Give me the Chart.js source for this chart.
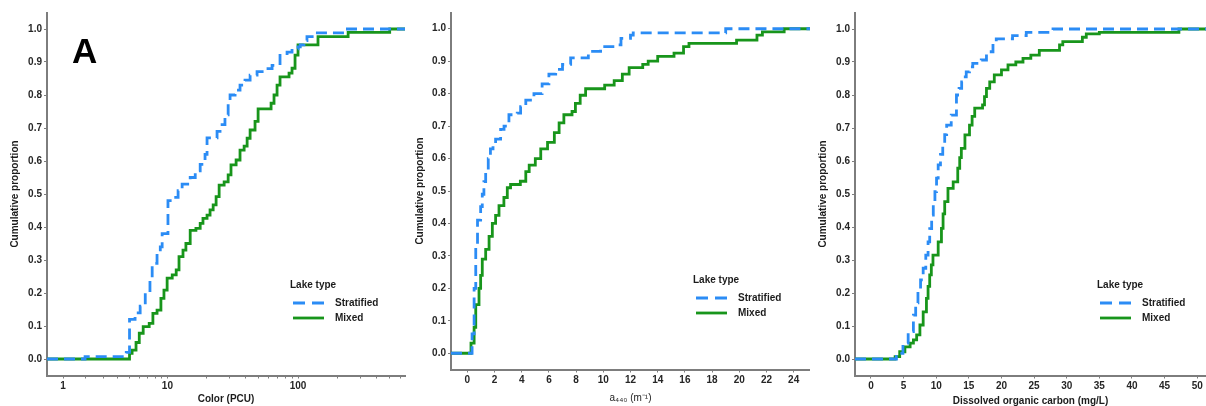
<!DOCTYPE html>
<html>
<head>
<meta charset="utf-8">
<title>Cumulative proportion by lake type</title>
<script src="https://cdn.jsdelivr.net/npm/chart.js@4.4.1/dist/chart.umd.min.js"></script>
<style>
  html, body { margin: 0; padding: 0; background: #fff; }
  #wrap { position: relative; width: 1206px; height: 406px; overflow: hidden; background: #fff; }
  #wrap canvas { position: absolute; top: 0; }
</style>
</head>
<body>
<div id="wrap">
  <canvas id="colorChart" width="406" height="406" style="left:0px"></canvas>
  <canvas id="a440Chart" width="404" height="406" style="left:406px"></canvas>
  <canvas id="docChart" width="396" height="406" style="left:810px"></canvas>
</div>
<script>
// ---- data -----------------------------------------------------------------
const lakeTypes = ['Stratified', 'Mixed'];
const legendTitle = 'Lake type';

const proportionTicks = [0, 0.1, 0.2, 0.3, 0.4, 0.5, 0.6, 0.7, 0.8, 0.9, 1.0];

// Color (PCU), pseudo-log axis
const colorTicks = [1, 2, 3, 4, 5, 6, 7, 8, 9, 10, 20, 30, 40, 50, 60, 70, 80, 90, 100, 200, 300, 400, 500, 600];
const colorTickLabels = [1, 10, 100];
const colorStratifiedX = [1.96, 4.7, 5.0, 5.55, 6.1, 6.7, 7.3, 7.6, 8.3, 8.8, 9.1, 10.1, 10.9, 12.1, 13.0, 15.0, 16.4, 17.9, 19.5, 20.2, 24.1, 25.4, 27.7, 29.3, 30.3, 33.1, 36.1, 39.4, 43.1, 48.7, 56.0, 63.4, 72.9, 82.5, 90.0, 100, 104, 111, 117, 137, 228];
const colorStratifiedY = [0.007, 0.02, 0.12, 0.14, 0.16, 0.20, 0.24, 0.29, 0.32, 0.34, 0.38, 0.48, 0.49, 0.51, 0.53, 0.55, 0.57, 0.59, 0.62, 0.67, 0.69, 0.71, 0.74, 0.78, 0.80, 0.815, 0.83, 0.845, 0.86, 0.871, 0.88, 0.89, 0.92, 0.93, 0.94, 0.946, 0.952, 0.965, 0.977, 0.988, 1.0];
const colorMixedX = [5.0, 5.25, 5.65, 6.0, 6.45, 7.2, 7.7, 8.3, 8.9, 9.4, 9.95, 10.9, 11.7, 12.3, 13.2, 13.9, 15.0, 16.6, 17.9, 18.8, 20.2, 21.3, 22.5, 23.7, 25.0, 27.3, 29.3, 30.8, 33.7, 36.1, 38.8, 40.9, 43.1, 47.0, 49.6, 62.3, 65.6, 69.2, 72.9, 85.4, 90.0, 94.9, 100, 142, 241, 500];
const colorMixedY = [0.017, 0.027, 0.05, 0.078, 0.098, 0.108, 0.138, 0.148, 0.184, 0.209, 0.245, 0.255, 0.27, 0.31, 0.33, 0.35, 0.39, 0.396, 0.411, 0.426, 0.436, 0.452, 0.467, 0.492, 0.527, 0.537, 0.558, 0.588, 0.603, 0.633, 0.645, 0.669, 0.694, 0.72, 0.758, 0.775, 0.80, 0.83, 0.855, 0.866, 0.881, 0.921, 0.952, 0.977, 0.99, 1.0];

// a440 (m^-1)
const a440Ticks = [0, 2, 4, 6, 8, 10, 12, 14, 16, 18, 20, 22, 24];
const a440StratifiedX = [0.35, 0.5, 0.62, 0.75, 0.98, 1.1, 1.22, 1.35, 1.54, 1.7, 1.89, 2.08, 2.45, 2.7, 3.06, 3.67, 3.92, 4.3, 4.9, 5.5, 6.0, 6.5, 7.0, 7.6, 8.9, 9.8, 10.9, 11.3, 12.0, 12.2, 19.0];
const a440StratifiedY = [0.06, 0.2, 0.32, 0.41, 0.452, 0.49, 0.529, 0.56, 0.6, 0.63, 0.647, 0.66, 0.69, 0.70, 0.735, 0.74, 0.76, 0.78, 0.80, 0.83, 0.86, 0.875, 0.89, 0.91, 0.93, 0.945, 0.95, 0.97, 0.98, 0.987, 1.0];
const a440MixedX = [0.27, 0.5, 0.62, 0.86, 0.98, 1.1, 1.35, 1.6, 1.84, 2.08, 2.33, 2.69, 2.94, 3.18, 3.9, 4.3, 4.55, 5.0, 5.4, 5.9, 6.4, 6.75, 7.1, 7.7, 7.95, 8.3, 8.7, 10.1, 10.8, 11.4, 11.9, 12.9, 13.3, 14.0, 15.2, 15.9, 16.3, 19.8, 21.3, 21.7, 23.3];
const a440MixedY = [0.031, 0.08, 0.15, 0.2, 0.24, 0.29, 0.32, 0.36, 0.4, 0.425, 0.455, 0.48, 0.51, 0.52, 0.53, 0.56, 0.58, 0.6, 0.63, 0.65, 0.68, 0.71, 0.735, 0.745, 0.77, 0.795, 0.815, 0.826, 0.84, 0.86, 0.88, 0.89, 0.90, 0.915, 0.925, 0.945, 0.955, 0.965, 0.98, 0.99, 1.0];

// Dissolved organic carbon (mg/L)
const docTicks = [0, 5, 10, 15, 20, 25, 30, 35, 40, 45, 50];
const docStratifiedX = [3.9, 4.2, 4.9, 5.7, 6.5, 6.85, 7.2, 7.6, 8.0, 8.4, 8.75, 9.0, 9.3, 9.55, 9.8, 10.05, 10.3, 10.65, 11.0, 11.3, 11.6, 12.3, 13.1, 13.5, 13.9, 14.2, 14.6, 15.1, 15.6, 16.9, 17.7, 18.7, 19.2, 21.7, 23.8, 27.9];
const docStratifiedY = [0.008, 0.017, 0.048, 0.083, 0.133, 0.17, 0.204, 0.24, 0.275, 0.315, 0.355, 0.395, 0.436, 0.47, 0.507, 0.548, 0.588, 0.62, 0.648, 0.68, 0.709, 0.739, 0.80, 0.82, 0.84, 0.855, 0.87, 0.885, 0.896, 0.906, 0.931, 0.957, 0.97, 0.98, 0.99, 1.0];
const docMixedX = [3.7, 4.4, 5.2, 6.0, 6.5, 7.0, 7.5, 8.0, 8.5, 8.75, 9.0, 9.25, 9.5, 10.3, 10.8, 11.05, 11.3, 11.8, 12.6, 13.3, 13.6, 13.85, 14.4, 15.1, 15.5, 15.9, 17.1, 17.4, 17.7, 18.2, 18.9, 20.0, 21.0, 22.2, 23.3, 24.5, 25.8, 28.9, 29.4, 32.4, 33.0, 35.0, 47.2];
const docMixedY = [0.007, 0.022, 0.037, 0.048, 0.058, 0.073, 0.103, 0.143, 0.184, 0.22, 0.255, 0.285, 0.315, 0.355, 0.396, 0.44, 0.477, 0.517, 0.537, 0.578, 0.61, 0.638, 0.679, 0.709, 0.735, 0.76, 0.77, 0.795, 0.82, 0.84, 0.861, 0.876, 0.891, 0.90, 0.911, 0.921, 0.935, 0.952, 0.962, 0.975, 0.985, 0.99, 1.0];

// ---- styling --------------------------------------------------------------
const FONT = '"Liberation Sans", Arial, Helvetica, sans-serif';
const BLUE = '#2b8cf5';
const GREEN = '#18951b';
const AXIS = '#7d7d7d';
const TICK_TEXT = '#262626';
const TITLE_TEXT = '#1c1c1c';
const LINE_W = 2.8;

// ---- pseudo-log scale (asinh(x/2)), like a log axis that stays defined near 0
const BaseLinear = Chart.LinearScale || Chart.registry.getScale('linear');
const plog = v => Math.asinh(v / 2);
class PseudoLogScale extends BaseLinear {
  determineDataLimits() {
    this.min = this.options.min;
    this.max = this.options.max;
  }
  buildTicks() {
    this.start = this.min;
    this.end = this.max;
    return colorTicks.map(v => ({ value: v }));
  }
  configure() {
    super.configure();
    this._tStart = plog(this.min);
    this._tRange = plog(this.max) - plog(this.min);
  }
  getPixelForValue(v) {
    if (v === null || v === undefined) return NaN;
    return this.getPixelForDecimal((plog(v) - this._tStart) / this._tRange);
  }
  getValueForPixel(p) {
    return 2 * Math.sinh(this._tStart + this.getDecimalForPixel(p) * this._tRange);
  }
}
PseudoLogScale.id = 'pseudoLog';
PseudoLogScale.defaults = {};
Chart.register(PseudoLogScale);

// ---- legend + panel tag -----------------------------------------------------
const decor = {
  id: 'decor',
  afterDraw(chart, args, o) {
    const ctx = chart.ctx;
    ctx.save();
    if (o.tag) {
      ctx.font = 'bold 35px ' + FONT;
      ctx.fillStyle = '#000';
      ctx.textBaseline = 'alphabetic';
      ctx.textAlign = 'left';
      ctx.fillText(o.tag, o.tagX, o.tagY);
    }
    const L = o.legend;
    ctx.font = 'bold 10px ' + FONT;
    ctx.fillStyle = TITLE_TEXT;
    ctx.textBaseline = 'middle';
    ctx.textAlign = 'left';
    ctx.fillText(legendTitle, L.x, L.y);
    chart.data.datasets.forEach((ds, i) => {
      const y = L.y + 18 + i * 15;
      ctx.strokeStyle = ds.borderColor;
      ctx.lineWidth = ds.borderWidth;
      ctx.lineCap = 'butt';
      ctx.setLineDash(ds.borderDash ? [12, 7] : []);
      ctx.beginPath();
      ctx.moveTo(L.x + 3, y);
      ctx.lineTo(L.x + 34, y);
      ctx.stroke();
      ctx.setLineDash([]);
      ctx.fillStyle = TITLE_TEXT;
      ctx.fillText(ds.label, L.x + 45, y);
    });
    ctx.restore();
  }
};

// ECDF path padded out to both axis limits
function ecdfPoints(xs, ys, lo, hi) {
  const pts = [{ x: lo, y: 0 }];
  xs.forEach((x, i) => pts.push({ x: x, y: ys[i] }));
  pts.push({ x: hi, y: ys[ys.length - 1] });
  return pts;
}

function makePanel(id, c) {
  const tickFont = { family: FONT, size: 10, weight: 'bold' };
  return new Chart(document.getElementById(id), {
    type: 'line',
    data: {
      datasets: [
        {
          label: lakeTypes[0],
          data: ecdfPoints(c.strat[0], c.strat[1], c.xMin, c.xMax),
          borderColor: BLUE, borderWidth: LINE_W, borderDash: [11, 6],
          stepped: 'before', pointRadius: 0, fill: false, tension: 0
        },
        {
          label: lakeTypes[1],
          data: ecdfPoints(c.mixed[0], c.mixed[1], c.xMin, c.xMax),
          borderColor: GREEN, borderWidth: LINE_W,
          stepped: 'before', pointRadius: 0, fill: false, tension: 0
        }
      ]
    },
    options: {
      responsive: false,
      animation: false,
      devicePixelRatio: 1,
      events: [],
      layout: { padding: { left: 0, right: c.padRight, top: 12.5, bottom: 0 } },
      plugins: {
        legend: { display: false },
        tooltip: { enabled: false },
        decor: c.decor
      },
      scales: {
        x: {
          type: c.xType,
          min: c.xMin,
          max: c.xMax,
          afterBuildTicks: s => { s.ticks = c.xTicks.map(v => ({ value: v })); },
          afterFit: s => { s.height = c.xAxisHeight; },
          ticks: {
            autoSkip: false, maxRotation: 0, minRotation: 0, padding: 2,
            font: tickFont, color: TICK_TEXT,
            callback: c.xLabel
          },
          grid: { drawOnChartArea: false, drawTicks: true, tickLength: 3, color: AXIS, lineWidth: 1 },
          border: { display: true, color: AXIS, width: 2 },
          title: {
            display: true, text: c.xTitle, color: TITLE_TEXT,
            font: { family: FONT, size: 10, weight: c.xTitleWeight, lineHeight: 1 },
            padding: { top: 0, bottom: c.xTitlePad }
          }
        },
        y: {
          type: 'linear',
          min: -0.05,
          max: 1.05,
          afterBuildTicks: s => { s.ticks = proportionTicks.map(v => ({ value: v })); },
          afterFit: s => { s.width = c.yAxisWidth; },
          ticks: {
            autoSkip: false, padding: 2, font: tickFont, color: TICK_TEXT,
            callback: v => Number(v).toFixed(1)
          },
          grid: { drawOnChartArea: false, drawTicks: true, tickLength: 3, color: AXIS, lineWidth: 1 },
          border: { display: true, color: AXIS, width: 2 },
          title: {
            display: true, text: 'Cumulative proportion', color: TITLE_TEXT,
            font: { family: FONT, size: 10, weight: 'bold', lineHeight: 1 },
            padding: { top: c.yTitlePad, bottom: 0 }
          }
        }
      }
    },
    plugins: [decor]
  });
}

makePanel('colorChart', {
  xType: 'pseudoLog', xMin: 0.4, xMax: 654, xTicks: colorTicks,
  xLabel: v => (colorTickLabels.indexOf(v) >= 0 ? String(v) : ''),
  xTitle: 'Color (PCU)', xTitleWeight: 'bold', xTitlePad: 1.5,
  xAxisHeight: 30.5, yAxisWidth: 47, yTitlePad: 10, padRight: 1,
  strat: [colorStratifiedX, colorStratifiedY], mixed: [colorMixedX, colorMixedY],
  decor: { tag: 'A', tagX: 72, tagY: 63, legend: { x: 290, y: 285 } }
});

makePanel('a440Chart', {
  xType: 'linear', xMin: -1.2, xMax: 25.2, xTicks: a440Ticks,
  xLabel: v => String(v),
  xTitle: 'a\u2084\u2084\u2080 (m\u207B\u00B9)', xTitleWeight: 'normal', xTitlePad: 3,
  xAxisHeight: 36.5, yAxisWidth: 45, yTitlePad: 9, padRight: 0,
  strat: [a440StratifiedX, a440StratifiedY], mixed: [a440MixedX, a440MixedY],
  decor: { legend: { x: 287, y: 280 } }
});

makePanel('docChart', {
  xType: 'linear', xMin: -2.45, xMax: 51.35, xTicks: docTicks,
  xLabel: v => String(v),
  xTitle: 'Dissolved organic carbon (mg/L)', xTitleWeight: 'bold', xTitlePad: 0,
  xAxisHeight: 30.5, yAxisWidth: 45, yTitlePad: 8, padRight: 0,
  strat: [docStratifiedX, docStratifiedY], mixed: [docMixedX, docMixedY],
  decor: { legend: { x: 287, y: 285 } }
});
</script>
</body>
</html>
